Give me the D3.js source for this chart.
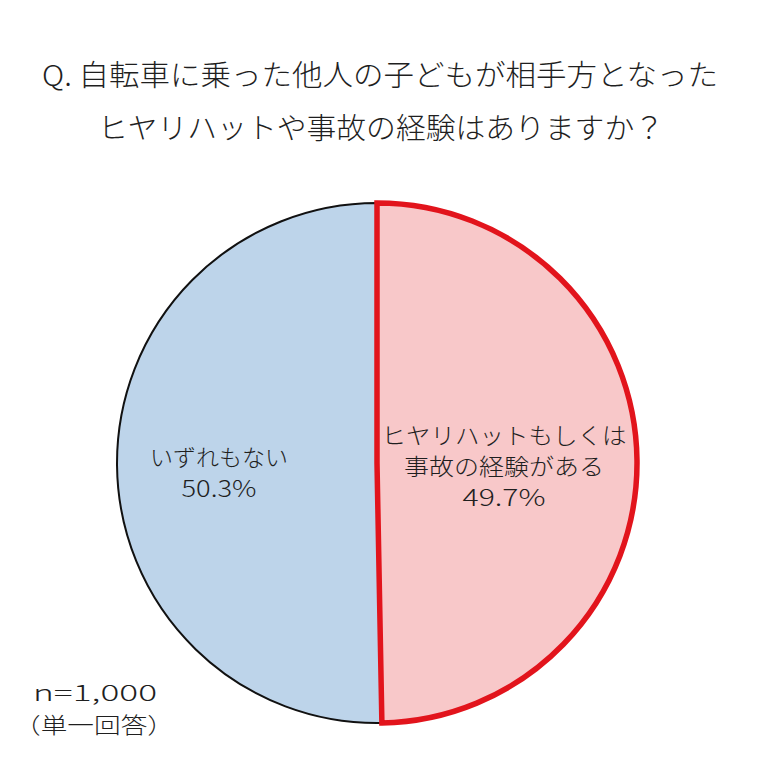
<!DOCTYPE html>
<html lang="ja">
<head>
<meta charset="UTF-8">
<title>自転車に乗った他人の子どもが相手方となったヒヤリハットや事故の経験</title>
<script src="https://cdnjs.cloudflare.com/ajax/libs/d3/7.8.5/d3.min.js"></script>
<style>
    body { margin: 0; background: #fff; }
    text { font-family: "Noto Sans CJK JP", "Noto Sans", sans-serif; font-weight: 300; fill: #1f1f1f; }
</style>
</head>
<body>
<div id="chart"></div>
<script>
// data
const categories = ["ヒヤリハットもしくは事故の経験がある", "いずれもない"];
const values = [49.7, 50.3];
const labelLines = [
    ["ヒヤリハットもしくは", "事故の経験がある", "49.7%"],
    ["いずれもない", "50.3%"]
];
const titleLines = [
    "Q. 自転車に乗った他人の子どもが相手方となった",
    "ヒヤリハットや事故の経験はありますか？"
];
const noteLines = ["n=1,000", "（単一回答）"];

const W = 759, H = 759;
const cx = 377, cy = 463, r = 260;

const fills = ["#f8c8c9", "#bdd4ea"];
const strokes = ["#e2141c", "#111"];
const strokeW = [5.5, 2];

const svg = d3.select("#chart").append("svg")
    .attr("width", W).attr("height", H);

// title
svg.selectAll(".title")
    .data(titleLines)
    .enter().append("text")
    .attr("class", "title")
    .attr("x", (d, i) => i == 0 ? 380 : 381)
    .attr("y", (d, i) => 86 + i * 53)
    .attr("text-anchor", "middle")
    .attr("font-size", 29)
    .attr("textLength", (d, i) => i == 0 ? 676 : 566)
    .attr("lengthAdjust", "spacingAndGlyphs")
    .text(d => d);

const pie = d3.pie().sort(null).value(d => d)(values);
const arc = d3.arc().innerRadius(0).outerRadius(r);

const g = svg.append("g").attr("transform", `translate(${cx},${cy})`);

// draw blue slice first so the red outline sits on top
const order = [1, 0];
g.selectAll("path")
    .data(order.map(i => pie[i]))
    .enter().append("path")
    .attr("d", arc)
    .attr("fill", d => fills[d.index])
    .attr("stroke", d => strokes[d.index])
    .attr("stroke-width", d => strokeW[d.index])
    .attr("stroke-linejoin", "miter");

// slice labels (widths)
const labelPos = [[504, 444], [219, 466]];
const labelLen = [[245, 200, 83], [138, 75]];
labelLines.forEach((lines, i) => {
    const t = svg.append("text")
        .attr("text-anchor", "middle")
        .attr("font-size", 23);
    lines.forEach((s, j) => {
        t.append("tspan")
            .attr("x", labelPos[i][0])
            .attr("y", labelPos[i][1] + j * 31)
            .attr("textLength", labelLen[i][j])
            .attr("lengthAdjust", "spacingAndGlyphs")
            .text(s);
    });
});

// sample note
const note = svg.append("text")
    .attr("text-anchor", "middle")
    .attr("font-size", 22);
note.selectAll("tspan")
    .data(noteLines)
    .enter().append("tspan")
    .attr("x", (d, i) => i == 0 ? 95 : 94)
    .attr("y", (d, i) => 701 + i * 32)
    .attr("textLength", (d, i) => i == 0 ? 124 : 160)
    .attr("lengthAdjust", "spacingAndGlyphs")
    .text(d => d);
</script>
</body>
</html>
